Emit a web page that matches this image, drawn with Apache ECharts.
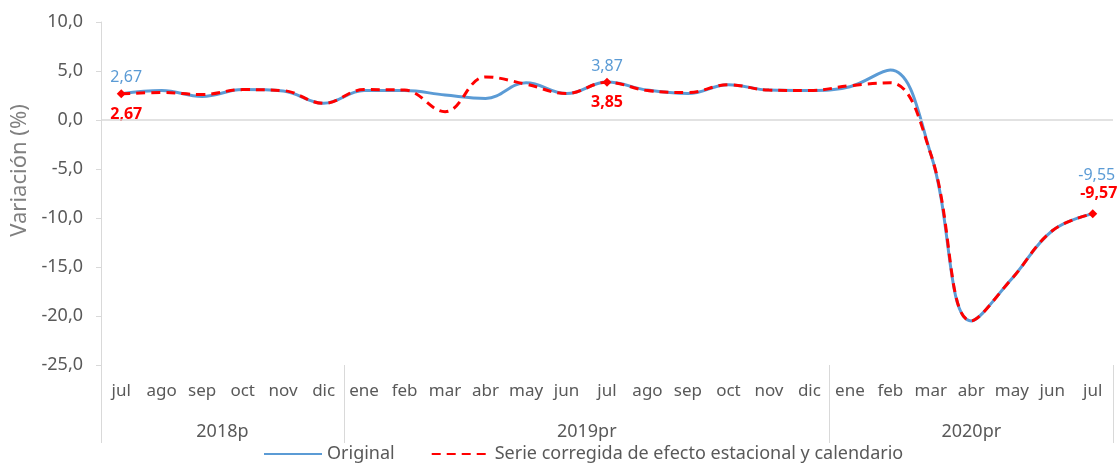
<!DOCTYPE html>
<html>
<head>
<meta charset="utf-8">
<script src="https://cdn.jsdelivr.net/npm/echarts@6/dist/echarts.min.js"></script>
<style>html,body{margin:0;padding:0;background:#fff}#c{width:1119px;height:465px}</style>
</head>
<body>
<div id="c"></div>
<script>
// Data
const months = ['jul','ago','sep','oct','nov','dic',
  'ene','feb','mar','abr','may','jun','jul','ago','sep','oct','nov','dic',
  'ene','feb','mar','abr','may','jun','jul'];
const years = ['2018p','2019pr','2020pr'];
const yearCounts = [6, 12, 7];
const original = [2.67,3.0,2.4,3.1,2.95,1.7,
  3.0,3.0,2.55,2.2,3.8,2.7,3.87,3.05,2.7,3.6,3.05,3.0,
  3.4,5.1,-3.5,-20.5,-16.2,-11.3,-9.55];
const corregida = [2.67,2.8,2.6,3.1,3.0,1.7,
  3.1,3.05,0.85,4.4,3.65,2.7,3.85,3.0,2.8,3.6,3.05,3.0,
  3.5,3.8,-3.5,-20.5,-16.2,-11.3,-9.57];
const yTicks = {min: -25, max: 10, interval: 5};
const labelIdx = [0, 12, 24];

const comma = (v, d) => v.toFixed(d).replace('.', ',');
const fontFam = '"Noto Sans", sans-serif';

const bounds = [0];
yearCounts.forEach(c => bounds.push(bounds[bounds.length - 1] + c));
const centers = years.map((y, i) => (bounds[i] + bounds[i + 1]) / 2);

const lastI = months.length - 1;
const blueData = original.map((v, i) => {
  if (!labelIdx.includes(i)) return v;
  return {value: v, symbol: 'circle', symbolSize: 0.01,
    label: {show: true, position: 'top', distance: i === lastI ? 30 : 8,
      offset: [i === 0 ? 5 : (i === lastI ? 4 : 0), 0]}};
});
const redData = corregida.map((v, i) => {
  if (!labelIdx.includes(i)) return v;
  return {value: v, symbol: 'diamond', symbolSize: 9,
    label: {show: true, position: i === lastI ? 'top' : 'bottom', distance: 8,
      offset: [i === 0 ? 5 : (i === lastI ? 6 : 0), 0]}};
});

const chart = echarts.init(document.getElementById('c'), null, {renderer: 'canvas'});
chart.setOption({
  animation: false,
  textStyle: {fontFamily: fontFam},
  grid: {left: 101, right: 6, top: 22, bottom: 100, containLabel: false},
  legend: {
    top: 440, left: 258, itemWidth: 58, itemHeight: 10, itemGap: 36,
    itemStyle: {opacity: 0},
    textStyle: {color: '#595959', fontSize: 18, fontFamily: fontFam},
    data: ['Original', 'Serie corregida de efecto estacional y calendario']
  },
  xAxis: [
    {
      type: 'category', data: months, boundaryGap: true, position: 'bottom',
      axisLine: {show: false}, axisTick: {show: false},
      axisLabel: {color: '#595959', fontSize: 17, margin: 18, interval: 0, fontFamily: fontFam}
    },
    {
      type: 'value', min: 0, max: months.length, position: 'bottom',
      axisLine: {show: false}, splitLine: {show: false},
      axisTick: {show: true, customValues: bounds, length: 78, lineStyle: {color: '#d9d9d9', width: 1}},
      axisLabel: {show: true, customValues: centers, margin: 58, color: '#595959', fontSize: 18, fontFamily: fontFam,
        formatter: v => { const k = centers.indexOf(v); return k >= 0 ? years[k] : ''; }}
    }
  ],
  yAxis: {
    type: 'value', min: yTicks.min, max: yTicks.max, interval: yTicks.interval,
    name: 'Variación (%)', nameLocation: 'middle', nameGap: 63, nameRotate: 90,
    nameTextStyle: {color: '#808080', fontSize: 22, fontFamily: fontFam, padding: [0, 0, 0, 46]},
    axisLine: {show: true, lineStyle: {color: '#d9d9d9'}},
    axisTick: {show: true, length: 5, lineStyle: {color: '#d9d9d9'}},
    splitLine: {show: false},
    axisLabel: {color: '#595959', fontSize: 18, margin: 18, formatter: v => comma(v, 1)}
  },
  series: [
    {
      name: 'Original', type: 'line', xAxisIndex: 0, data: blueData, smooth: 0.4,
      symbol: 'none',
      lineStyle: {color: '#5B9BD5', width: 3},
      itemStyle: {color: '#5B9BD5'},
      label: {show: false, color: '#5B9BD5', fontSize: 16, formatter: p => comma(p.value, 2)},
      markLine: {silent: true, symbol: 'none', label: {show: false},
        lineStyle: {color: '#d9d9d9', type: 'solid', width: 1.5}, data: [{yAxis: 0}]},
      z: 2
    },
    {
      name: 'Serie corregida de efecto estacional y calendario', type: 'line', xAxisIndex: 0,
      data: redData, smooth: 0.4, symbol: 'none',
      lineStyle: {color: '#FF0000', width: 3, type: [9, 6]},
      itemStyle: {color: '#FF0000'},
      label: {show: false, color: '#FF0000', fontSize: 16, fontWeight: 'bold', formatter: p => comma(p.value, 2)},
      z: 3
    }
  ]
});
</script>
</body>
</html>
